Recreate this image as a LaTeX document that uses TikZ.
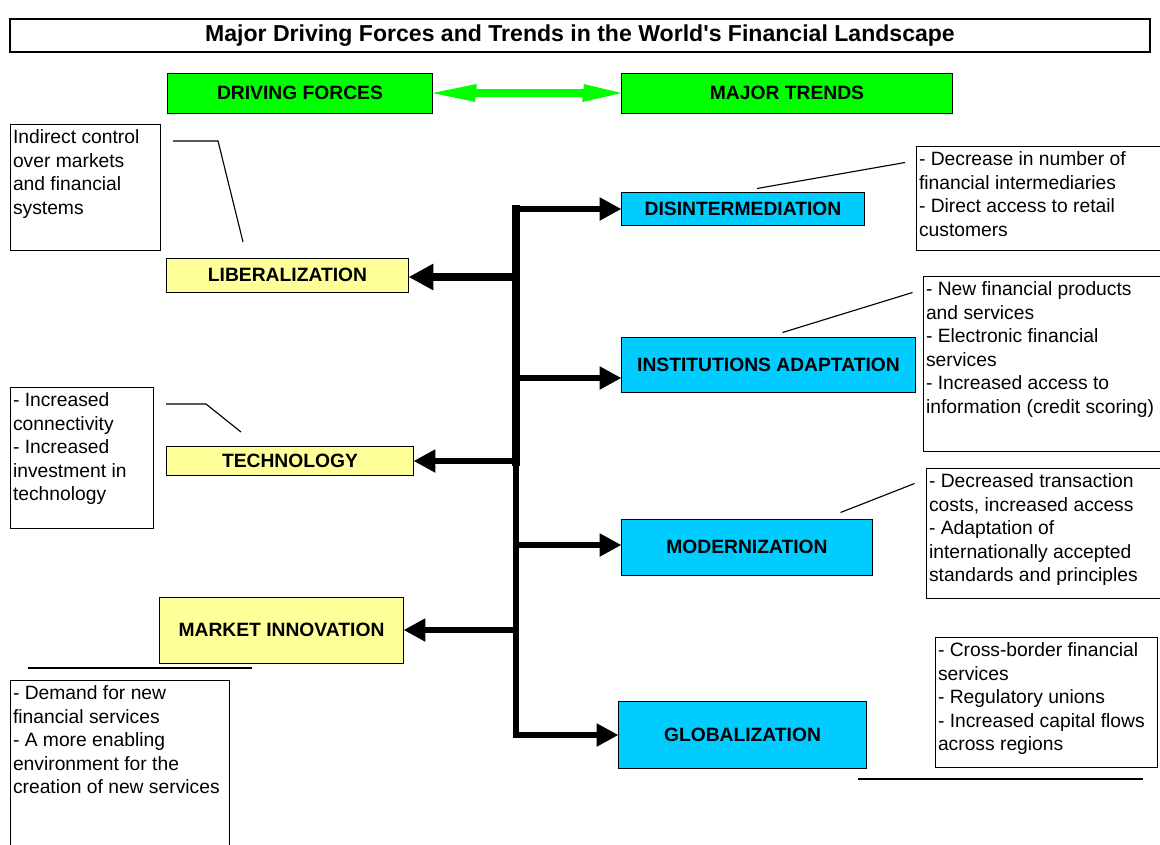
\documentclass[tikz,border=0pt]{standalone}
\usepackage{fontspec}
\setmainfont{Liberation Sans}
\usetikzlibrary{arrows.meta,calc}
\definecolor{headgreen}{HTML}{00FF00}
\definecolor{forceyellow}{HTML}{FFFF99}
\definecolor{trendblue}{HTML}{00CCFF}

\begin{document}
\begin{tikzpicture}[
		x=0.025cm, y=-0.025cm,
		every node/.style={draw, line width=0.7pt, inner sep=0pt},
		boxtext/.style={font=\fontsize{13.7}{16.8}\selectfont\bfseries},
		titlebox/.style={font=\fontsize{16.4}{20}\selectfont\bfseries, line width=1pt},
		headbox/.style={boxtext, fill=headgreen},
		forcebox/.style={boxtext, fill=forceyellow},
		trendbox/.style={boxtext, fill=trendblue},
		note/.style={anchor=north west},
		notetxt/.style={draw=none, anchor=north west, align=left, inner xsep=1.8pt, inner ysep=3.5pt, font=\fontsize{13.7}{16.8}\selectfont},
		trunk/.style={line width=5.7pt, line cap=rect},
		branch/.style={line width=4.25pt, -{Triangle[length=15.5pt,width=15.5pt]}},
		calloutline/.style={line width=0.8pt}
		]
		\useasboundingbox (0,0) rectangle (1160,844);
		\clip (0,0) rectangle (1160,844);
		
		% title and headings
		\node[titlebox, minimum width=28.5cm, minimum height=0.825cm] (title) at (580,35.5) {Major Driving Forces and Trends in the World\textquotesingle s Financial Landscape};
		\node[headbox, minimum width=6.6cm, minimum height=1cm] (drv) at (300,93) {DRIVING FORCES};
		\node[headbox, minimum width=8.25cm, minimum height=1cm] (trd) at (787,93) {MAJOR TRENDS};
		\fill[headgreen] (drv.east) -- ++(44,-9) -- ++(0,5) -- ++(107,0) -- ++(0,-5) -- (trd.west)
			-- ++(-39,9) -- ++(0,-5) -- ++(-107,0) -- ++(0,5) -- cycle;
		
		% driving forces
		\node[forcebox, minimum width=6.025cm, minimum height=0.85cm] (lib) at (287.5,275) {LIBERALIZATION};
		\node[forcebox, minimum width=6.15cm, minimum height=0.725cm] (tech) at (290,460.5) {TECHNOLOGY};
		\node[forcebox, minimum width=6.075cm, minimum height=1.65cm] (mkt) at (281.5,630) {MARKET INNOVATION};
		
		% major trends
		\node[trendbox, minimum width=6.05cm, minimum height=0.825cm] (dis) at (743,208.5) {DISINTERMEDIATION};
		\node[trendbox, minimum width=7.325cm, minimum height=1.375cm] (inst) at (768.5,364.5) {INSTITUTIONS ADAPTATION};
		\node[trendbox, minimum width=6.25cm, minimum height=1.4cm] (mod) at (747,547) {MODERNIZATION};
		\node[trendbox, minimum width=6.175cm, minimum height=1.675cm] (glob) at (742.5,734.5) {GLOBALIZATION};
		
		% notes
		\node[note, minimum width=3.75cm, minimum height=3.15cm] (libnote) at (10,124) {};
		\node[notetxt] (libtxt) at (libnote.north west) {Indirect control\\over markets\\and financial\\systems};
		\node[note, minimum width=3.575cm, minimum height=3.525cm] (technote) at (10,387) {};
		\node[notetxt] (techtxt) at (technote.north west) {- Increased\\connectivity\\- Increased\\investment in\\technology};
		\node[note, minimum width=5.475cm, minimum height=4.5cm] (mktnote) at (10,680) {};
		\node[notetxt] (mkttxt) at (mktnote.north west) {- Demand for new\\financial services\\- A more enabling\\environment for the\\creation of new services};
		\node[note, minimum width=6.5cm, minimum height=2.6cm] (disnote) at (916,146) {};
		\node[notetxt] (distxt) at (disnote.north west) {- Decrease in number of\\financial intermediaries\\- Direct access to retail\\customers};
		\node[note, minimum width=6.5cm, minimum height=4.375cm] (instnote) at (923,276) {};
		\node[notetxt] (insttxt) at (instnote.north west) {- New financial products\\and services\\- Electronic financial\\services\\- Increased access to\\information (credit scoring)};
		\node[note, minimum width=6.5cm, minimum height=3.25cm] (modnote) at (926,468) {};
		\node[notetxt] (modtxt) at (modnote.north west) {- Decreased transaction\\costs, increased access\\- Adaptation of\\internationally accepted\\standards and principles};
		\node[note, minimum width=5.55cm, minimum height=3.25cm] (globnote) at (935,637) {};
		\node[notetxt] (globtxt) at (globnote.north west) {- Cross-border financial\\services\\- Regulatory unions\\- Increased capital flows\\across regions};
		
		% callout lines
		\draw[calloutline] (libnote.north east) ++(12,17) -- ++(45,0) -- ++(25,101);
		\draw[calloutline] (technote.north east) ++(12,17) -- ++(40,0) -- ++(35,28);
		\draw[calloutline] (mktnote.north west) ++(18,-12) -- ++(224,0);
		\draw[calloutline] (dis.north) ++(14,-3) -- ++(148,-26);
		\draw[calloutline] (inst.north) ++(14,-4) -- ++(130,-40);
		\draw[calloutline] (mod.north east) ++(-32,-6) -- ++(74,-29);
		\draw[calloutline] (globnote.south west) ++(-77,11) -- ++(285,0);
		
		% trunk and branches
		\coordinate (ttop) at (516,209);
		\coordinate (tmid) at (516,462);
		\coordinate (tbot) at (516,735);
		\coordinate (tlib) at (516,277);
		\coordinate (tinst) at (516,378);
		\coordinate (ttech) at (516,461);
		\coordinate (tmod) at (516,545);
		\coordinate (tmkt) at (516,630);
		\draw[trunk] (tmid) -- (ttop);
		\draw[branch] (tmid) -- (ttop) -- (ttop -| dis.west);
		\draw[branch] (tmid) -- (tbot) -- (tbot -| glob.west);
		\draw[branch, line width=5pt, -{Triangle[length=17.7pt,width=17.7pt]}] (tlib) -- (tlib -| lib.east);
		\draw[branch] (tinst) -- (tinst -| inst.west);
		\draw[branch] (ttech) -- (ttech -| tech.east);
		\draw[branch] (tmod) -- (tmod -| mod.west);
		\draw[branch] (tmkt) -- (tmkt -| mkt.east);
\end{tikzpicture}
\end{document}
